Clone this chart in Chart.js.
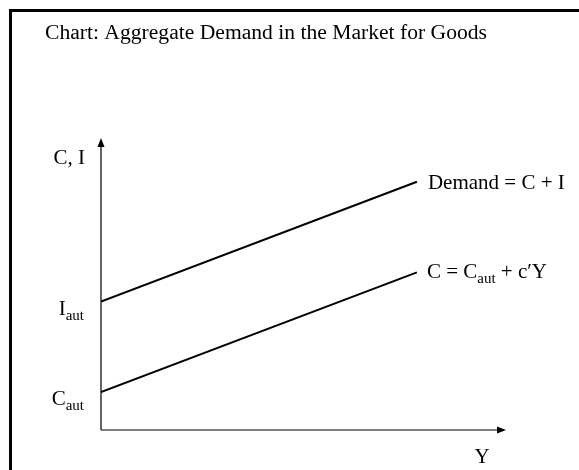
<!DOCTYPE html>
<html>
<head>
<meta charset="utf-8">
<script src="https://cdn.jsdelivr.net/npm/chart.js@4/dist/chart.umd.min.js"></script>
<style>
  html, body { margin: 0; padding: 0; background: #fff; overflow: hidden; }
  #wrap { position: relative; width: 579px; height: 470px; }
  #frame { position: absolute; left: 9px; top: 9px; width: 600px; height: 500px;
           border-left: 3px solid #000; border-top: 3px solid #000; box-sizing: border-box; }
  canvas { position: absolute; left: 0; top: 0; }
</style>
</head>
<body>
<div id="wrap">
  <div id="frame"></div>
  <canvas id="c" width="579" height="470"></canvas>
</div>
<script>
// ---- data ----
const titleText = 'Chart: Aggregate Demand in the Market for Goods';
const incomeY = [0, 78];            // Y (x-axis) positions of line ends
const demand = [44, 85];            // Demand = C + I
const consumption = [13, 54];       // C = C_aut + c'Y
const yTickValues = [13, 44];
const yTickMain = ['C', 'I'];
const yTickSub = ['aut', 'aut'];
const yAxisTitle = 'C, I';
const xAxisTitle = 'Y';
const demandLabel = [['Demand = C + I', '']];
const consumptionLabel = [['C = C', ''], ['aut', 'sub'], [' + c\u2032Y', '']];

const FONT = "'Liberation Serif', 'Times New Roman', serif";
const TITLE_SIZE = 21.6, LABEL_SIZE = 21, SUB_SIZE = 15;

function pts(xs, ys) { return xs.map((x, i) => ({ x: x, y: ys[i] })); }

function drawRich(ctx, parts, x, baseline, size, subSize) {
  let cx = x;
  for (const [t, kind] of parts) {
    if (kind === 'sub') {
      ctx.font = subSize + 'px ' + FONT;
      ctx.fillText(t, cx, baseline + 5);
    } else {
      ctx.font = size + 'px ' + FONT;
      ctx.fillText(t, cx, baseline);
    }
    cx += ctx.measureText(t).width;
  }
  return cx - x;
}
function richWidth(ctx, parts, size, subSize) {
  let w = 0;
  for (const [t, kind] of parts) {
    ctx.font = (kind === 'sub' ? subSize : size) + 'px ' + FONT;
    w += ctx.measureText(t).width;
  }
  return w;
}

const decor = {
  id: 'decor',
  afterDraw(chart) {
    const ctx = chart.ctx;
    const a = chart.chartArea;
    const xs = chart.scales.x, ys = chart.scales.y;
    ctx.save();
    ctx.fillStyle = '#000';
    ctx.strokeStyle = '#000';
    ctx.textBaseline = 'alphabetic';
    ctx.textAlign = 'left';

    // title
    ctx.font = TITLE_SIZE + 'px ' + FONT;
    ctx.fillText(titleText, 45, 39);

    // axes
    const ox = xs.getPixelForValue(0), oy = ys.getPixelForValue(0);
    ctx.lineWidth = 1.2;
    ctx.beginPath();
    ctx.moveTo(ox, oy); ctx.lineTo(ox, a.top + 7);
    ctx.moveTo(ox, oy); ctx.lineTo(a.right - 7, oy);
    ctx.stroke();
    // arrowheads
    ctx.beginPath();
    ctx.moveTo(ox, a.top); ctx.lineTo(ox - 3.5, a.top + 9); ctx.lineTo(ox + 3.5, a.top + 9); ctx.closePath();
    ctx.fill();
    ctx.beginPath();
    ctx.moveTo(a.right, oy); ctx.lineTo(a.right - 9, oy - 3.5); ctx.lineTo(a.right - 9, oy + 3.5); ctx.closePath();
    ctx.fill();

    // axis titles
    ctx.font = LABEL_SIZE + 'px ' + FONT;
    ctx.textAlign = 'right';
    ctx.fillText(yAxisTitle, ox - 16, a.top + 26);
    ctx.textAlign = 'center';
    ctx.fillText(xAxisTitle, a.right - 24, oy + 33);
    ctx.textAlign = 'left';

    // y tick labels
    yTickValues.forEach((v, i) => {
      const parts = [[yTickMain[i], ''], [yTickSub[i], 'sub']];
      const w = richWidth(ctx, parts, LABEL_SIZE, SUB_SIZE);
      drawRich(ctx, parts, ox - 17 - w, ys.getPixelForValue(v) + 13, LABEL_SIZE, SUB_SIZE);
    });

    // series labels at line ends
    const n = incomeY.length - 1;
    const ex = xs.getPixelForValue(incomeY[n]);
    drawRich(ctx, demandLabel, ex + 11, ys.getPixelForValue(demand[n]) + 7, LABEL_SIZE, SUB_SIZE);
    drawRich(ctx, consumptionLabel, ex + 10, ys.getPixelForValue(consumption[n]) + 6, LABEL_SIZE, SUB_SIZE);
    ctx.restore();
  }
};

new Chart(document.getElementById('c'), {
  type: 'scatter',
  data: {
    datasets: [
      { label: 'Demand = C + I', data: pts(incomeY, demand), showLine: true,
        borderColor: '#000', borderWidth: 2, pointRadius: 0, fill: false },
      { label: 'C = Caut + c\u2032Y', data: pts(incomeY, consumption), showLine: true,
        borderColor: '#000', borderWidth: 2, pointRadius: 0, fill: false }
    ]
  },
  options: {
    responsive: false,
    animation: false,
    layout: { padding: { left: 101, top: 138, right: 73, bottom: 40 } },
    plugins: { legend: { display: false }, tooltip: { enabled: false }, title: { display: false } },
    scales: {
      x: { type: 'linear', min: 0, max: 100, display: false },
      y: { type: 'linear', min: 0, max: 100, display: false }
    }
  },
  plugins: [decor]
});
</script>
</body>
</html>
